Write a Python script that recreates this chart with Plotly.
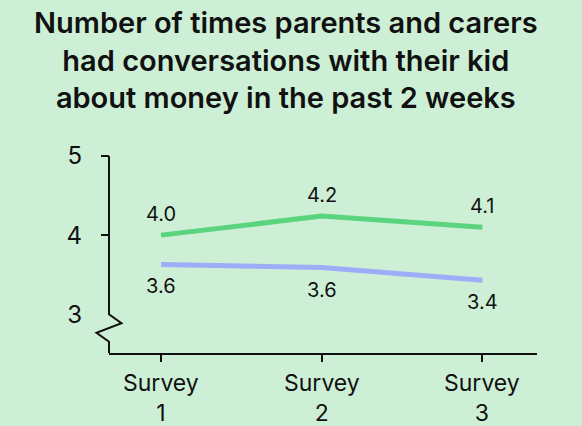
import plotly.graph_objects as go

BG = "#cdefd6"
GREEN = "#5bd47e"
BLUE = "#9eadf8"
INK = "#111111"

survey_labels = ["Survey<br>1", "Survey<br>2", "Survey<br>3"]
x_pos = [1, 2, 3]
green_vals = [4.0, 4.24, 4.1]
green_labels = ["4.0", "4.2", "4.1"]
blue_vals = [3.63, 3.59, 3.43]
blue_labels = ["3.6", "3.6", "3.4"]
y_ticks = [3, 4, 5]

W, H = 582, 426
M = dict(l=109, r=45, t=156, b=73)
X_MIN, X_MAX = 0.676, 3.34
Y_MIN, Y_MAX = 2.51, 5.0
PW = W - M["l"] - M["r"]
PH = H - M["t"] - M["b"]


def pt(dx, dy, y0=3):
    # paper coords: dx px right of the y axis, dy px below data value y0
    px = dx / PW
    py = (y0 - Y_MIN) / (Y_MAX - Y_MIN) - dy / PH
    return f"{px:.5f},{py:.5f}"


fig = go.Figure()
fig.add_trace(go.Scatter(x=x_pos, y=green_vals, mode="lines",
                         line=dict(color=GREEN, width=5), hoverinfo="skip"))
fig.add_trace(go.Scatter(x=x_pos, y=blue_vals, mode="lines",
                         line=dict(color=BLUE, width=5), hoverinfo="skip"))

# value labels
for xv, yv, t in zip(x_pos, green_vals, green_labels):
    fig.add_annotation(x=xv, y=yv, text=t, showarrow=False, yshift=21,
                       font=dict(size=20, color=INK))
for xv, yv, t in zip(x_pos, blue_vals, blue_labels):
    fig.add_annotation(x=xv, y=yv, text=t, showarrow=False, yshift=-22,
                       font=dict(size=20, color=INK))

# x category labels
for xv, lab in zip(x_pos, survey_labels):
    fig.add_annotation(x=xv, y=0, yref="paper", text=lab, showarrow=False,
                       yanchor="middle", yshift=-45, font=dict(size=23, color=INK))

# y axis line with a break at the bottom, plus ticks at 4 and 5
axis_path = ("M " + pt(0, 0, 5) + " L " + pt(0, 0) + " L " + pt(12.5, 9)
             + " L " + pt(-12.5, 18.5) + " L " + pt(0, 27.5)
             + " L " + pt(0, 0, Y_MIN)
             + " M " + pt(-8, 0, 5) + " L " + pt(0, 0, 5)
             + " M " + pt(-8, 0, 4) + " L " + pt(0, 0, 4))
fig.add_shape(type="path", xref="paper", yref="paper", path=axis_path,
              line=dict(color=INK, width=2), layer="above")

# title, centred on the page rather than on the plot area
fig.add_annotation(
    xref="paper", yref="paper", x=(W / 2 - 5 - M["l"]) / PW, y=1, yshift=M["t"] - 3,
    xanchor="center", yanchor="top", showarrow=False,
    text="Number of times parents and carers<br>had conversations with their kid<br>about money in the past 2 weeks",
    font=dict(size=29, weight=600, color=INK),
)

fig.update_layout(
    width=W, height=H,
    paper_bgcolor=BG, plot_bgcolor=BG,
    showlegend=False,
    margin=dict(M, autoexpand=False),
    font=dict(family="Inter, sans-serif", color=INK),
    xaxis=dict(
        range=[X_MIN, X_MAX], tickvals=x_pos, showticklabels=False,
        showgrid=False, zeroline=False, showline=True, linecolor=INK, linewidth=2,
        ticks="outside", ticklen=7, tickwidth=2, tickcolor=INK, automargin=False,
    ),
    yaxis=dict(
        range=[Y_MIN, Y_MAX], tickvals=y_ticks,
        showgrid=False, zeroline=False, showline=False, ticks="",
        ticklabelstandoff=26, automargin=False,
        tickfont=dict(size=24, color=INK),
    ),
)

fig.write_html("out.html", config={"displayModeBar": False},
               post_script="document.body.style.margin='0';")
